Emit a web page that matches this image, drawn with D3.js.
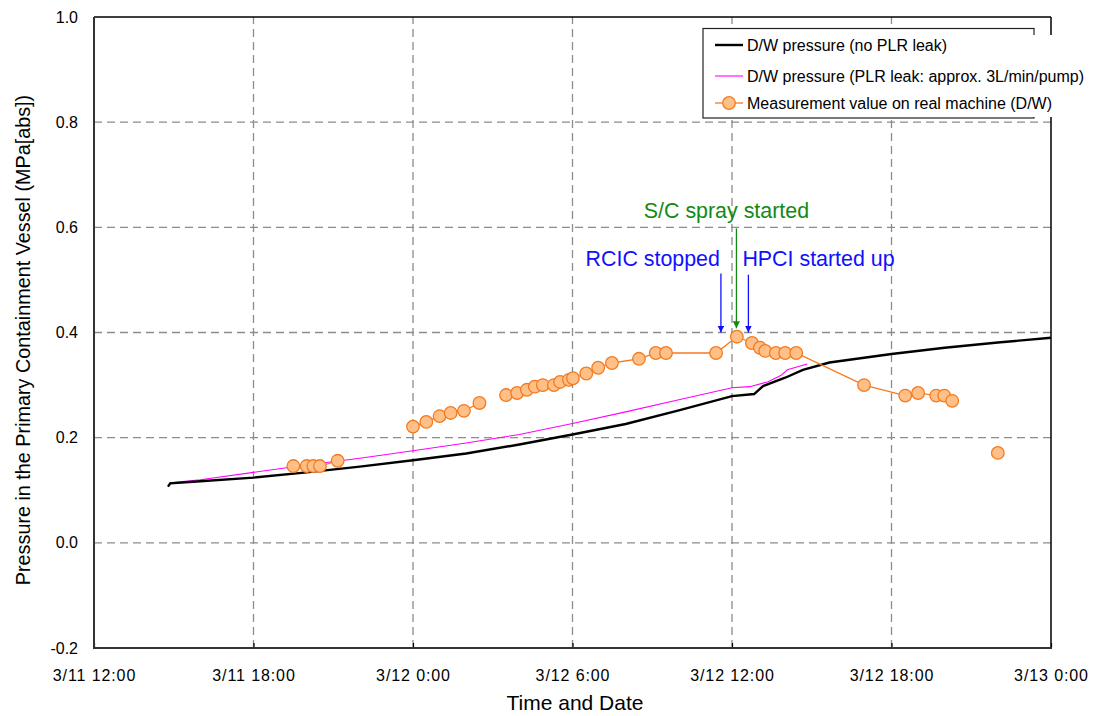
<!DOCTYPE html>
<html>
<head>
<meta charset="utf-8">
<script src="https://cdn.jsdelivr.net/npm/d3@7"></script>
<style>
  html, body { margin: 0; padding: 0; background: #fff; }
  svg { display: block; font-family: Arial, "Liberation Sans", sans-serif; }
</style>
</head>
<body>
<svg id="chart" width="1094" height="716"></svg>
<script>
// ---------------- data ----------------
const xTickLabels = ["3/11 12:00", "3/11 18:00", "3/12 0:00", "3/12 6:00", "3/12 12:00", "3/12 18:00", "3/13 0:00"];
const yTickValues = [-0.2, 0.0, 0.2, 0.4, 0.6, 0.8, 1.0];
const yTickLabels = ["-0.2", "0.0", "0.2", "0.4", "0.6", "0.8", "1.0"];

// D/W pressure (no PLR leak)
const noLeakTimes = ["3/11 14:47", "3/11 14:52", "3/11 16:00", "3/11 18:00", "3/11 20:00", "3/11 22:00",
  "3/12 0:00", "3/12 2:00", "3/12 4:00", "3/12 6:00", "3/12 8:00", "3/12 10:00", "3/12 12:00",
  "3/12 12:50", "3/12 13:10", "3/12 14:00", "3/12 14:40", "3/12 15:40", "3/12 18:00", "3/12 20:00",
  "3/12 22:00", "3/13 0:00"];
const noLeakValues = [0.107, 0.113, 0.117, 0.124, 0.134, 0.145,
  0.157, 0.170, 0.187, 0.206, 0.226, 0.252, 0.279,
  0.283, 0.298, 0.314, 0.329, 0.343, 0.359, 0.371,
  0.381, 0.390];

// D/W pressure (PLR leak: approx. 3L/min/pump)
const leakTimes = ["3/11 14:47", "3/11 14:52", "3/11 16:00", "3/11 18:00", "3/11 20:00", "3/11 22:00",
  "3/12 0:00", "3/12 2:00", "3/12 4:00", "3/12 6:00", "3/12 8:00", "3/12 10:00", "3/12 12:00",
  "3/12 12:40", "3/12 13:20", "3/12 13:50", "3/12 14:05", "3/12 14:50"];
const leakValues = [0.107, 0.114, 0.120, 0.134, 0.148, 0.161,
  0.175, 0.190, 0.206, 0.227, 0.249, 0.272, 0.295,
  0.297, 0.306, 0.318, 0.329, 0.340];

// Measurement value on real machine (D/W); null = gap in the line
const measTimes = ["3/11 19:30", "3/11 20:00", "3/11 20:15", "3/11 20:30", "3/11 21:10", null,
  "3/12 0:00", "3/12 0:30", "3/12 1:00", "3/12 1:25", "3/12 1:55", "3/12 2:30", null,
  "3/12 3:30", "3/12 3:55", "3/12 4:17", "3/12 4:35", "3/12 4:53", "3/12 5:18", "3/12 5:32",
  "3/12 5:52", "3/12 6:01", "3/12 6:31", "3/12 6:58", "3/12 7:29", "3/12 8:30", "3/12 9:08",
  "3/12 9:31", "3/12 11:24", "3/12 12:11", "3/12 12:45", "3/12 13:03", "3/12 13:15", "3/12 13:39",
  "3/12 14:00", "3/12 14:25", "3/12 16:58", "3/12 18:31", "3/12 19:00", "3/12 19:41", "3/12 19:59",
  "3/12 20:17", null, "3/12 22:00"];
const measValues = [0.146, 0.146, 0.146, 0.146, 0.156, null,
  0.221, 0.230, 0.241, 0.247, 0.251, 0.266, null,
  0.281, 0.285, 0.291, 0.297, 0.300, 0.300, 0.306,
  0.310, 0.313, 0.322, 0.333, 0.342, 0.350, 0.361,
  0.361, 0.361, 0.392, 0.380, 0.371, 0.365, 0.361,
  0.361, 0.361, 0.300, 0.280, 0.285, 0.280, 0.280,
  0.270, null, 0.171];

// annotations
const annoLabels = ["RCIC stopped", "S/C spray started", "HPCI started up"];
const annoTimes = ["3/12 11:35", "3/12 12:10", "3/12 12:37"];
const annoColors = ["#1010ff", "#138a13", "#1010ff"];

const legendLabels = ["D/W pressure (no PLR leak)", "D/W pressure (PLR leak: approx. 3L/min/pump)",
  "Measurement value on real machine (D/W)"];

// ---------------- helpers ----------------
function parseT(s) {
  if (s === null) return null;
  const m = s.match(/^(\d+)\/(\d+)\s+(\d+):(\d+)$/);
  return new Date(2011, +m[1] - 1, +m[2], +m[3], +m[4]);
}
const zipSeries = (ts, vs) => ts.map((t, i) => ({ t: parseT(t), v: vs[i] }));
const noLeak = zipSeries(noLeakTimes, noLeakValues);
const leak = zipSeries(leakTimes, leakValues);
const meas = zipSeries(measTimes, measValues);

// ---------------- layout ----------------
const svg = d3.select("#chart");
const L = 94, R = 1051, T = 17, B = 648;
const xTicks = xTickLabels.map(parseT);
const x = d3.scaleTime().domain([xTicks[0], xTicks[xTicks.length - 1]]).range([L, R]);
const y = d3.scaleLinear().domain([-0.2, 1.0]).range([B, T]);

// gridlines
const grid = svg.append("g");
grid.selectAll("line.h").data(yTickValues.filter(v => v > -0.15 && v < 0.95)).join("line")
  .attr("x1", L).attr("x2", R).attr("y1", d => y(d)).attr("y2", d => y(d))
  .attr("stroke", "#8c8c8c").attr("stroke-width", 1.3).attr("stroke-dasharray", "8,5");
grid.selectAll("line.v").data(xTicks.slice(1, -1)).join("line")
  .attr("y1", B).attr("y2", T).attr("x1", d => x(d)).attr("x2", d => x(d))
  .attr("stroke", "#8c8c8c").attr("stroke-width", 1.3).attr("stroke-dasharray", "8,5");

// axes
const fmtX = (d) => xTickLabels[xTicks.findIndex(t => +t === +d)];
const fmtY = (d) => yTickLabels[yTickValues.findIndex(v => Math.abs(v - d) < 1e-9)];
const xAxis = svg.append("g").attr("transform", `translate(0,${B})`)
  .call(d3.axisBottom(x).tickValues(xTicks).tickSizeInner(-5).tickSizeOuter(0).tickPadding(22).tickFormat(fmtX));
xAxis.select(".domain").remove();
xAxis.selectAll(".tick line").attr("stroke", "#000").attr("stroke-width", 1.2);
xAxis.selectAll("text").attr("font-size", 16).attr("letter-spacing", "0.9px").attr("fill", "#000")
  .attr("font-family", "Arial, 'Liberation Sans', sans-serif");

const yAxis = svg.append("g").attr("transform", `translate(${L},0)`)
  .call(d3.axisLeft(y).tickValues(yTickValues).tickSize(0).tickPadding(16).tickFormat(fmtY));
yAxis.select(".domain").remove();
yAxis.selectAll("text").attr("font-size", 16).attr("fill", "#000")
  .attr("font-family", "Arial, 'Liberation Sans', sans-serif");

// frame
svg.append("line").attr("x1", L).attr("x2", R).attr("y1", T).attr("y2", T).attr("stroke", "#000").attr("stroke-width", 1.3);
svg.append("line").attr("x1", R).attr("x2", R).attr("y1", T).attr("y2", B).attr("stroke", "#000").attr("stroke-width", 1.5);
svg.append("line").attr("x1", L).attr("x2", L).attr("y1", T).attr("y2", B + 1).attr("stroke", "#333").attr("stroke-width", 2);
svg.append("line").attr("x1", L - 1).attr("x2", R + 1).attr("y1", B).attr("y2", B).attr("stroke", "#333").attr("stroke-width", 2);

// series
const line = d3.line().defined(d => d.t !== null && d.v !== null).x(d => x(d.t)).y(d => y(d.v));
svg.append("path").datum(leak).attr("d", line).attr("fill", "none").attr("stroke", "#ff00ff").attr("stroke-width", 1.1);
svg.append("path").datum(noLeak).attr("d", line).attr("fill", "none").attr("stroke", "#000").attr("stroke-width", 2.4);
svg.append("path").datum(meas).attr("d", line).attr("fill", "none").attr("stroke", "#f47a20").attr("stroke-width", 1.3);
svg.append("g").selectAll("circle").data(meas.filter(d => d.t !== null)).join("circle")
  .attr("cx", d => x(d.t)).attr("cy", d => y(d.v)).attr("r", 6.3)
  .attr("fill", "#ffc088").attr("stroke", "#f47a20").attr("stroke-width", 1.3);

// annotations
svg.append("defs").selectAll("marker").data(annoColors).join("marker")
  .attr("id", (d, i) => "arr" + i).attr("viewBox", "0 0 10 10").attr("refX", 10).attr("refY", 5)
  .attr("markerWidth", 7).attr("markerHeight", 7).attr("markerUnits", "userSpaceOnUse").attr("orient", "auto")
  .append("path").attr("d", "M0,0 L10,5 L0,10 z").attr("fill", d => d);
const arrowTop = [y(0.512), y(0.598), y(0.51)];
const arrowTip = [y(0.400), y(0.408), y(0.400)];
annoTimes.forEach((t, i) => {
  const xx = x(parseT(t));
  svg.append("line").attr("x1", xx).attr("x2", xx).attr("y1", arrowTop[i]).attr("y2", arrowTip[i])
    .attr("stroke", annoColors[i]).attr("stroke-width", 1.3).attr("marker-end", `url(#arr${i})`);
});
const annoText = [
  { xv: annoTimes[0], dx: -1, yv: 0.527, anchor: "end" },
  { xv: annoTimes[1], dx: -10, yv: 0.617, anchor: "middle" },
  { xv: annoTimes[2], dx: -6, yv: 0.527, anchor: "start" }
];
annoText.forEach((a, i) => {
  svg.append("text").attr("x", x(parseT(a.xv)) + a.dx).attr("y", y(a.yv))
    .attr("text-anchor", a.anchor).attr("font-size", 21.4).attr("fill", annoColors[i]).text(annoLabels[i]);
});

// axis titles
svg.append("text").attr("x", 575).attr("y", 710).attr("text-anchor", "middle")
  .attr("font-size", 21).attr("fill", "#000").text("Time and Date");
svg.append("text").attr("transform", `translate(30,340) rotate(-90)`).attr("text-anchor", "middle")
  .attr("font-size", 19.8).attr("fill", "#000").text("Pressure in the Primary Containment Vessel (MPa[abs])");

// legend
const lg = svg.append("g");
lg.append("rect").attr("x", 703).attr("y", 28.5).attr("width", 331).attr("height", 89.5)
  .attr("fill", "#fff").attr("stroke", "#222").attr("stroke-width", 1.2);
lg.append("rect").attr("x", 704).attr("y", 35).attr("width", 390).attr("height", 82).attr("fill", "#fff");
const legY = [45, 76, 103];
const legColors = ["#000", "#ff00ff", "#f47a20"];
const legWidths = [2.4, 1.1, 1.3];
legendLabels.forEach((lab, i) => {
  lg.append("line").attr("x1", 715).attr("x2", 743).attr("y1", legY[i]).attr("y2", legY[i])
    .attr("stroke", legColors[i]).attr("stroke-width", legWidths[i]);
  if (i === 2) {
    lg.append("circle").attr("cx", 729).attr("cy", legY[i]).attr("r", 6.3)
      .attr("fill", "#ffc088").attr("stroke", "#f47a20").attr("stroke-width", 1.3);
  }
  lg.append("text").attr("x", 747).attr("y", legY[i] + 6).attr("font-size", 16).attr("fill", "#000").text(lab);
});
</script>
</body>
</html>
